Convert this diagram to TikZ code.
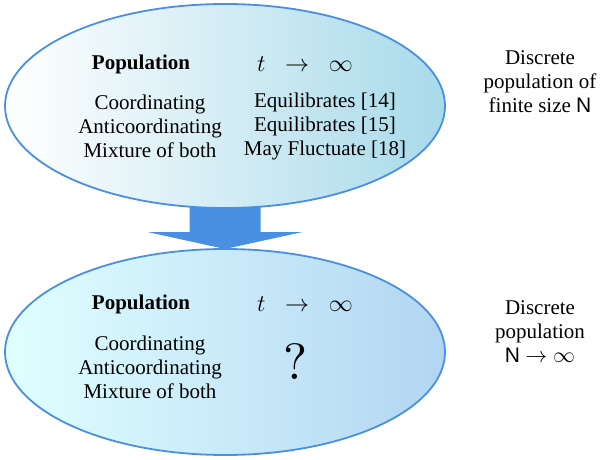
\documentclass[tikz,border=0pt]{standalone}
\usepackage{fontspec}
\setmainfont{Liberation Serif}
\newfontfamily\sansN{Liberation Sans}
\newfontfamily\lmqfont{Latin Modern Roman}
\usetikzlibrary{calc,shapes.geometric}
\definecolor{edgeblue}{RGB}{74,143,224}
\definecolor{arrowblue}{RGB}{74,144,226}
\definecolor{topmid}{RGB}{236,246,252}
\definecolor{topright}{RGB}{168,218,234}
\definecolor{botleft}{RGB}{224,255,255}
\definecolor{botmid}{RGB}{204,234,248}
\definecolor{botright}{RGB}{178,214,242}
\tikzset{
  popell/.style={ellipse, draw=edgeblue, line width=0.9pt, minimum width=220pt, minimum height=102pt, inner sep=0pt, outer sep=0pt},
  txt/.style={font=\fontsize{10.5}{12}\selectfont, align=center, inner sep=0pt},
  head/.style={txt, font=\fontsize{10.5}{12}\selectfont\bfseries},
  limtxt/.style={txt, font=\fontsize{11.5}{13}\selectfont},
}
\begin{document}
\begin{tikzpicture}[x=0.5pt,y=-0.5pt]
\useasboundingbox (0,0) rectangle (600,460);
% bottom ellipse
\node[popell, minimum height=103pt, left color=botleft, middle color=botmid, right color=botright] (bot) at (225,352) {};
% top ellipse node (shape only, drawn later)
\path (225,106) node[popell, draw=none] (topghost) {};
% arrow
\fill[arrowblue] ($(topghost.south)+(-17.75pt,6pt)$) -- ($(bot.north)+(-17.75pt,8.5pt)$) -- ($(bot.north)+(-38.75pt,8.5pt)$) -- (bot.north) -- ($(bot.north)+(38.75pt,8.5pt)$) -- ($(bot.north)+(17.75pt,8.5pt)$) -- ($(topghost.south)+(17.75pt,6pt)$) -- cycle;
% top ellipse
\node[popell, left color=white, middle color=topmid, right color=topright] (top) at (225,106) {};
% top texts
\node[head] (tpop) at (141,64) {Population};
\node[limtxt] (tlim) at (305,64) {$t\hspace{6.5pt}\rightarrow\hspace{6.5pt}\infty$};
\node[txt] (tleft) at (150,126) {Coordinating\\Anticoordinating\\Mixture of both};
\node[txt] (tright) at (325,126) {Equilibrates [14]\\Equilibrates [15]\\May Fluctuate [18]};
% bottom texts
\node[head] (bpop) at (141,304) {Population};
\node[limtxt] (blim) at (305,304) {$t\hspace{6.5pt}\rightarrow\hspace{6.5pt}\infty$};
\node[txt] (bleft) at (150,367) {Coordinating\\Anticoordinating\\Mixture of both};
\node[txt, font=\lmqfont\fontsize{10}{10}\selectfont, scale=2.55, transform shape] (bq) at (296,362) {?};
% side labels
\node[txt] (tside) at (540,82) {Discrete\\population of\\finite size {\sansN N}};
\node[txt] (bside) at (540,332) {Discrete\\population\\{\sansN N} $\rightarrow\infty$};
\end{tikzpicture}
\end{document}
